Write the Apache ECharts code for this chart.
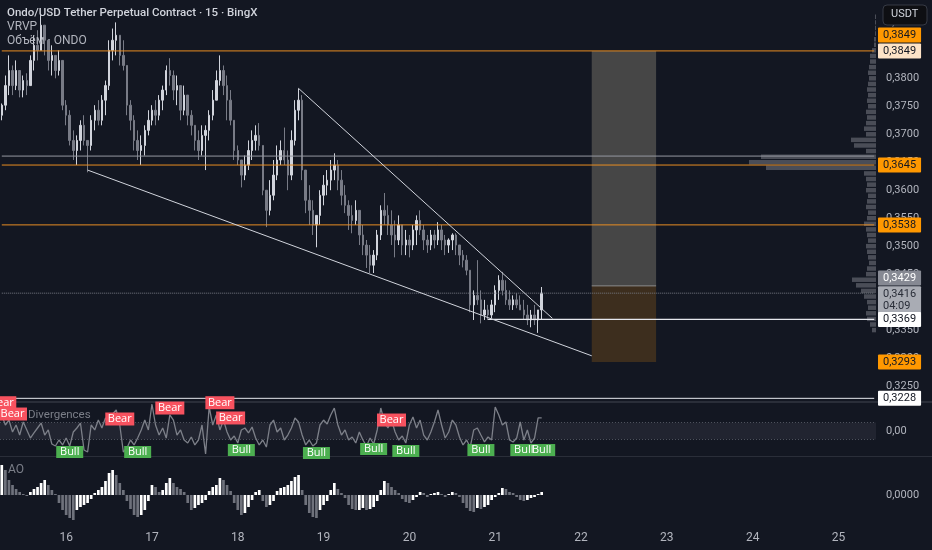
<!DOCTYPE html>
<html><head><meta charset="utf-8">
<script src="https://cdn.jsdelivr.net/npm/echarts@6/dist/echarts.min.js"></script>
<style>html,body{margin:0;padding:0;background:#131722;}#c{width:932px;height:550px;}</style>
</head><body><div id="c"></div>
<script>
// ---------- DATA ----------
const startDay = 15, startHour = 6, slotCount = 245;   // hourly slots, 15th 06:00 .. 25th
const dayTicks = ['16','17','18','19','20','21','22','23','24','25'];

// hourly candles [open, close, low, high]
const candles = [
[0.3734,0.3752,0.3725,0.3755],[0.3752,0.3787,0.3743,0.3805],[0.3787,0.3814,0.3770,0.3841],[0.3814,0.3787,0.3770,0.3823],
[0.3787,0.3814,0.3779,0.3832],[0.3814,0.3779,0.3766,0.3814],[0.3779,0.3796,0.3766,0.3805],[0.3796,0.3787,0.3770,0.3809],
[0.3787,0.3832,0.3787,0.3841],[0.3832,0.3859,0.3814,0.3877],[0.3859,0.3850,0.3832,0.3886],[0.3850,0.3895,0.3850,0.3913],
[0.3895,0.3868,0.3841,0.3895],[0.3868,0.3832,0.3814,0.3868],[0.3832,0.3841,0.3805,0.3859],[0.3841,0.3814,0.3800,0.3841],
[0.3814,0.3832,0.3805,0.3850],[0.3832,0.3752,0.3743,0.3832],[0.3752,0.3734,0.3716,0.3761],[0.3734,0.3689,0.3680,0.3743],
[0.3689,0.3671,0.3654,0.3707],[0.3671,0.3689,0.3645,0.3698],[0.3689,0.3716,0.3671,0.3725],[0.3716,0.3689,0.3680,0.3734],
[0.3689,0.3680,0.3632,0.3689],[0.3680,0.3725,0.3671,0.3734],[0.3725,0.3743,0.3707,0.3752],[0.3743,0.3725,0.3716,0.3761],
[0.3725,0.3761,0.3716,0.3770],[0.3761,0.3787,0.3734,0.3796],[0.3787,0.3850,0.3779,0.3868],[0.3850,0.3868,0.3832,0.3889],
[0.3868,0.3877,0.3841,0.3900],[0.3877,0.3841,0.3823,0.3877],[0.3841,0.3823,0.3814,0.3868],[0.3823,0.3752,0.3734,0.3823],
[0.3752,0.3725,0.3707,0.3761],[0.3725,0.3689,0.3671,0.3734],[0.3689,0.3671,0.3654,0.3707],[0.3671,0.3680,0.3645,0.3698],
[0.3680,0.3707,0.3662,0.3716],[0.3707,0.3725,0.3698,0.3743],[0.3725,0.3743,0.3716,0.3752],[0.3743,0.3734,0.3716,0.3761],
[0.3734,0.3761,0.3725,0.3770],[0.3761,0.3779,0.3743,0.3787],[0.3779,0.3814,0.3770,0.3823],[0.3814,0.3805,0.3787,0.3836],
[0.3805,0.3779,0.3761,0.3814],[0.3779,0.3787,0.3752,0.3805],[0.3787,0.3743,0.3725,0.3787],[0.3743,0.3770,0.3734,0.3787],
[0.3770,0.3734,0.3716,0.3770],[0.3734,0.3716,0.3698,0.3743],[0.3716,0.3689,0.3671,0.3716],[0.3689,0.3671,0.3654,0.3707],
[0.3671,0.3698,0.3662,0.3716],[0.3698,0.3707,0.3636,0.3716],[0.3707,0.3734,0.3689,0.3743],[0.3734,0.3761,0.3725,0.3779],
[0.3761,0.3796,0.3761,0.3814],[0.3796,0.3814,0.3787,0.3841],[0.3814,0.3787,0.3770,0.3823],[0.3787,0.3761,0.3725,0.3805],
[0.3761,0.3725,0.3716,0.3779],[0.3725,0.3671,0.3654,0.3725],[0.3671,0.3654,0.3645,0.3680],[0.3654,0.3627,0.3605,0.3654],
[0.3627,0.3645,0.3618,0.3662],[0.3645,0.3671,0.3636,0.3689],[0.3671,0.3689,0.3654,0.3707],[0.3689,0.3698,0.3671,0.3716],
[0.3698,0.3680,0.3671,0.3720],[0.3680,0.3600,0.3591,0.3680],[0.3600,0.3564,0.3534,0.3600],[0.3564,0.3591,0.3555,0.3618],
[0.3591,0.3627,0.3582,0.3654],[0.3627,0.3654,0.3618,0.3680],[0.3654,0.3671,0.3645,0.3689],[0.3671,0.3654,0.3645,0.3712],
[0.3654,0.3627,0.3600,0.3671],[0.3627,0.3689,0.3618,0.3707],[0.3689,0.3743,0.3680,0.3761],[0.3743,0.3761,0.3725,0.3782],
[0.3761,0.3636,0.3618,0.3770],[0.3636,0.3582,0.3559,0.3636],[0.3582,0.3564,0.3538,0.3609],[0.3564,0.3538,0.3520,0.3582],
[0.3538,0.3555,0.3498,0.3555],[0.3555,0.3591,0.3538,0.3600],[0.3591,0.3609,0.3573,0.3627],[0.3609,0.3618,0.3591,0.3636],
[0.3618,0.3636,0.3600,0.3654],[0.3636,0.3645,0.3618,0.3666],[0.3645,0.3618,0.3600,0.3654],[0.3618,0.3591,0.3573,0.3636],
[0.3591,0.3573,0.3559,0.3609],[0.3573,0.3555,0.3529,0.3582],[0.3555,0.3546,0.3523,0.3573],[0.3546,0.3564,0.3538,0.3582],
[0.3564,0.3520,0.3502,0.3564],[0.3520,0.3502,0.3484,0.3538],[0.3502,0.3484,0.3461,0.3511],[0.3484,0.3466,0.3452,0.3502],
[0.3466,0.3484,0.3452,0.3493],[0.3484,0.3520,0.3475,0.3529],[0.3520,0.3564,0.3511,0.3573],[0.3564,0.3555,0.3538,0.3595],
[0.3555,0.3538,0.3520,0.3573],[0.3538,0.3520,0.3502,0.3564],[0.3520,0.3511,0.3480,0.3546],[0.3511,0.3538,0.3502,0.3555],
[0.3538,0.3502,0.3484,0.3538],[0.3502,0.3511,0.3484,0.3529],[0.3511,0.3502,0.3480,0.3520],[0.3502,0.3529,0.3493,0.3538],
[0.3529,0.3546,0.3502,0.3555],[0.3546,0.3529,0.3520,0.3564],[0.3529,0.3511,0.3493,0.3538],[0.3511,0.3502,0.3488,0.3520],
[0.3502,0.3520,0.3493,0.3529],[0.3520,0.3511,0.3496,0.3529],[0.3511,0.3529,0.3502,0.3543],[0.3529,0.3511,0.3493,0.3538],
[0.3511,0.3502,0.3484,0.3520],[0.3502,0.3511,0.3488,0.3514],[0.3511,0.3520,0.3493,0.3523],[0.3520,0.3502,0.3484,0.3523],
[0.3502,0.3484,0.3466,0.3502],[0.3484,0.3475,0.3462,0.3493],[0.3475,0.3457,0.3448,0.3484],[0.3457,0.3395,0.3382,0.3457],
[0.3395,0.3412,0.3368,0.3421],[0.3412,0.3404,0.3395,0.3475],[0.3404,0.3377,0.3362,0.3421],[0.3377,0.3386,0.3368,0.3404],
[0.3386,0.3377,0.3368,0.3395],[0.3377,0.3395,0.3371,0.3404],[0.3395,0.3421,0.3382,0.3430],[0.3421,0.3439,0.3404,0.3448],
[0.3439,0.3421,0.3412,0.3454],[0.3421,0.3404,0.3395,0.3439],[0.3404,0.3395,0.3386,0.3421],[0.3395,0.3404,0.3386,0.3412],
[0.3404,0.3395,0.3389,0.3416],[0.3395,0.3386,0.3386,0.3412],[0.3386,0.3377,0.3368,0.3404],[0.3377,0.3368,0.3359,0.3395],
[0.3368,0.3377,0.3355,0.3386],[0.3377,0.3368,0.3359,0.3395],[0.3368,0.3386,0.3345,0.3386],[0.3386,0.3416,0.3368,0.3427]
];

// CCI values per hourly candle
const cci = [187,70,128,-12,70,-47,105,12,-82,-23,35,93,-47,12,-152,-175,-105,-163,-82,-175,
-12,35,93,-222,-245,70,12,128,35,152,105,198,245,70,-245,-198,-105,-163,-82,12,
128,12,315,70,-47,35,-82,187,128,-47,12,-105,-140,-70,-163,-105,70,-268,280,70,
187,12,128,-12,-105,-58,-140,12,35,-23,47,-82,-163,-105,-187,70,128,-12,35,-105,
-47,35,152,105,-47,-163,-105,-175,-140,70,128,82,187,268,70,-47,12,-105,-70,-140,
-12,-105,-175,-82,-152,12,268,105,35,128,-12,-105,-58,-140,70,163,35,128,-47,-105,
-12,105,245,70,-82,-12,128,70,-70,-163,-105,-187,12,35,-47,-128,-70,-105,280,187,
70,105,-105,-128,-82,105,-105,12,-140,-82,152,152];

// Awesome Oscillator per hourly candle
const ao = [0.0030,0.0025,0.0015,0.0010,0.0006,0.0003,0.0001,-0.0001,0.0003,0.0006,
0.0008,0.0012,0.0015,0.0010,0.0005,0.0001,-0.0008,-0.0015,-0.0020,-0.0023,
-0.0025,-0.0015,-0.0012,-0.0010,-0.0008,-0.0004,0.0002,0.0005,0.0008,0.0014,
0.0022,0.0025,0.0020,0.0012,0.0005,-0.0006,-0.0014,-0.0020,-0.0022,-0.0020,
-0.0015,-0.0006,0.0010,0.0008,0.0003,0.0005,0.0012,0.0017,0.0012,0.0008,
0.0006,0.0003,-0.0008,-0.0015,-0.0013,-0.0010,-0.0008,-0.0005,0.0004,0.0008,
0.0010,0.0017,0.0015,0.0010,0.0004,-0.0008,-0.0015,-0.0020,-0.0018,-0.0012,
-0.0005,0.0003,0.0005,-0.0006,-0.0012,-0.0010,-0.0006,0.0004,0.0007,0.0008,
0.0010,0.0014,0.0018,0.0020,0.0005,-0.0010,-0.0018,-0.0022,-0.0023,-0.0015,
-0.0010,-0.0006,0.0005,0.0012,0.0006,0.0002,-0.0003,-0.0010,-0.0014,-0.0015,
-0.0015,-0.0013,-0.0015,-0.0014,-0.0012,-0.0006,0.0005,0.0014,0.0012,0.0008,
0.0005,0.0002,-0.0004,-0.0007,-0.0008,-0.0005,-0.0002,0.0003,0.0002,-0.0002,
0.0001,0.0002,0.0003,0.0001,-0.0002,0.0001,0.0003,0.0002,-0.0002,-0.0008,
-0.0013,-0.0016,-0.0017,-0.0013,-0.0014,-0.0012,-0.0010,-0.0005,-0.0002,0.0002,
0.0007,0.0006,0.0003,0.0002,-0.0002,-0.0005,-0.0006,-0.0005,-0.0003,-0.0002,
0.0001,0.0003];

// divergence labels [slot index, CCI value]
const bearMarks = [[0,330],[3,198],[33,140],[47,268],[61,330],[64,152],[109,128]];
const bullMarks = [[19,-245],[38,-245],[67,-222],[88,-257],[104,-210],[113,-233],[134,-222],[146,-222],[151,-222]];

// visible range volume profile: price level, volume
const vrvpPrice = [0.3910,0.3900,0.3890,0.3880,0.3870,0.3860,0.3850,0.3840,0.3830,0.3820,0.3810,0.3800,0.3790,0.3780,0.3770,0.3760,0.3750,0.3740,0.3730,0.3720,0.3710,0.3700,0.3690,0.3680,0.3670,0.3660,0.3650,0.3640,0.3630,0.3620,0.3610,0.3600,0.3590,0.3580,0.3570,0.3560,0.3550,0.3540,0.3530,0.3520,0.3510,0.3500,0.3490,0.3480,0.3470,0.3460,0.3450,0.3440,0.3430,0.3420,0.3410,0.3400,0.3390,0.3380,0.3370,0.3360,0.3350];
const vrvpVol   = [1,1,1,1,2,2,4,6,6,7,8,7,8,9,8,9,8,10,9,10,12,10,25,22,10,115,127,110,12,10,9,10,8,9,10,8,9,12,10,9,8,10,9,8,7,9,10,24,20,15,12,9,8,10,9,6,4];

// drawn levels
const orangeLevels = [0.3849, 0.3645, 0.3538];
const levelTop = 0.3849, levelGray = 0.3661;
const levelLast = 0.3416, levelPosEntry = 0.3429, levelSupport = 0.3369, levelStop = 0.3293, levelLow = 0.3228;
const countdown = '04:09';
// trendlines [slot, price]
const upperLine = [[83,0.3782],[154,0.3371]];
const lowerLine = [[24,0.3636],[165,0.3304]];
const posBox = {from:165, to:183};
const supportFrom = 136;
const priceMin = 0.32, priceMax = 0.394, priceStep = 0.005;

// ---------- BUILD ----------
const categories = [];
for (let k = 0; k < slotCount; k++) {
  const t = startHour + k;
  const d = startDay + Math.floor(t / 24), h = t % 24;
  categories.push(d + ' ' + String(h).padStart(2,'0') + ':00');
}
const lastSlot = slotCount - 1;
const fmt = v => Number(v).toFixed(4).replace('.', ',');
const FONT = 'Roboto';
const ORANGE_LINE = '#e88d22';
const NONE = 'rgba(0,0,0,0)';
function tag(bg, fg, extra) {
  return Object.assign({show:true, position:'end', distance:2, backgroundColor:bg, color:fg,
    padding:[2,5,2,5], fontSize:11, fontFamily:FONT, borderRadius:1, formatter: p => fmt(p.value)}, extra||{});
}
// price tags on the scale (invisible marker lines carrying the labels)
function tagSeries(name, values, label) {
  return {type:'line', name:name, xAxisIndex:0, yAxisIndex:0, data:[], z:6, silent:true,
    markLine:{silent:true, precision:4, symbol:['none','none'], animation:false,
      lineStyle:{color:NONE, width:1}, label:label, data:values.map(v => ({yAxis:v}))}};
}
// visible drawn lines as plain line series through the axes
function segSeries(name, pts, style, z) {
  return {type:'line', name:name, xAxisIndex:0, yAxisIndex:0, data:pts, symbol:'none', silent:true,
    z:z||3, lineStyle:Object.assign({width:1, type:'solid'}, style), itemStyle:{color:style.color}};
}
const full = v => [[0, v], [lastSlot, v]];

const xBase = (gi, showLabels) => ({
  type:'category', gridIndex:gi, data:categories, boundaryGap:true,
  axisLine:{show:false}, axisTick:{show:false}, splitLine:{show:false},
  axisLabel: showLabels ? {
    show:true, interval:(i, v) => v.endsWith(' 00:00') && dayTicks.includes(v.split(' ')[0]),
    formatter: v => v.split(' ')[0], color:'#b2b5be', fontSize:12, fontFamily:FONT, margin:7
  } : {show:false}
});

const series = [
  {
    type:'custom', name:'VRVP', xAxisIndex:3, yAxisIndex:3, z:1, silent:true,
    data: vrvpPrice.map((p, i) => [vrvpVol[i], p]),
    renderItem:(params, api) => {
      const v = api.value(0), p = api.value(1);
      const a = api.coord([v, p + 0.0004]);
      const b = api.coord([0, p - 0.0004]);
      return {type:'rect', shape:{x:Math.min(a[0], b[0]), y:a[1], width:Math.abs(b[0]-a[0]), height:b[1]-a[1]},
              style:{fill:'rgba(149,152,161,0.42)'}};
    }
  },
  {
    type:'candlestick', name:'ONDO', xAxisIndex:0, yAxisIndex:0, data:candles, barWidth:'55%', z:2,
    itemStyle:{color:'#d1d4dc', color0:'#787b86', borderColor:'#d1d4dc', borderColor0:'#787b86', borderWidth:1},
    markArea:{silent:true, data:[
      [{xAxis:posBox.from, yAxis:levelTop, itemStyle:{color:'#464646'}}, {xAxis:posBox.to, yAxis:levelPosEntry}],
      [{xAxis:posBox.from, yAxis:levelPosEntry, itemStyle:{color:'#3d2e1e'}}, {xAxis:posBox.to, yAxis:levelStop}]
    ]}
  },
  segSeries('gray', full(levelGray), {color:'#9598a1'}),
  segSeries('posDivider', [[posBox.from, levelPosEntry],[posBox.to, levelPosEntry]], {color:'#8a8a8a'}),
  ...orangeLevels.map((v, i) => segSeries('orange' + i, full(v), {color:ORANGE_LINE})),
  segSeries('last', full(levelLast), {color:'#787b86', type:'dotted'}),
  segSeries('support', [[supportFrom, levelSupport],[lastSlot, levelSupport]], {color:'#e6e8ee', width:1.2}),
  segSeries('low', full(levelLow), {color:'#e6e8ee'}),
  segSeries('upperTrend', upperLine, {color:'#d1d4dc'}),
  segSeries('lowerTrend', lowerLine, {color:'#d1d4dc'}),
  tagSeries('tagOrange', [0.3645, 0.3538, levelStop], tag('#ff9800','#131722')),
  tagSeries('tagTop', [levelTop], tag('#fde3c7','#131722')),
  tagSeries('tagTopUp', [levelTop], tag('#ff9800','#131722',{offset:[0,-16]})),
  tagSeries('tagLast', [levelLast], tag('#a9acb4','#2a2e39',{formatter: p => fmt(p.value)+'\n'+countdown, lineHeight:12, offset:[0,7]})),
  tagSeries('tagEntry', [levelPosEntry], tag('#868993','#ffffff',{offset:[0,-8]})),
  tagSeries('tagWhite', [levelSupport, levelLow], tag('#ffffff','#131722')),
  {
    type:'line', name:'CCI', xAxisIndex:1, yAxisIndex:1, data:cci, symbol:'none',
    lineStyle:{color:'#7d8089', width:1.3},
    markArea:{silent:true, itemStyle:{color:'rgba(120,123,134,0.14)'}, data:[[{yAxis:100},{yAxis:-100}]]},
    markLine:{silent:true, symbol:['none','none'], label:{show:false},
      lineStyle:{color:'rgba(120,123,134,0.55)', type:[1,2], width:1}, data:[{yAxis:100},{yAxis:-100}]},
    markPoint:{silent:true, symbol:'rect',
      label:{show:true, position:'inside', color:'#ffffff', fontSize:11, fontFamily:'Open Sans'},
      data:[
        ...bearMarks.map(m => ({coord:m, symbolSize:[29,13], itemStyle:{color:'#f7525f'}, label:{formatter:'Bear'}})),
        ...bullMarks.map(m => ({coord:m, symbolSize:[27,12], itemStyle:{color:'#4caf50'}, label:{formatter:'Bull'}}))
      ]}
  },
  {
    type:'bar', name:'AO', xAxisIndex:2, yAxisIndex:2, data:ao, barWidth:'75%',
    itemStyle:{color: p => (p.dataIndex > 0 && ao[p.dataIndex] < ao[p.dataIndex-1]) ? '#6f727c' : '#ffffff'}
  }
];

const chart = echarts.init(document.getElementById('c'), null, {renderer:'canvas'});
chart.setOption({
  backgroundColor:'#131722',
  animation:false,
  grid:[
    {left:0, width:876, top:0, height:414},
    {left:0, width:876, top:401, height:60},
    {left:0, width:876, top:455, height:70},
    {left:0, width:876, top:0, height:414}
  ],
  xAxis:[ xBase(0,false), xBase(1,false), xBase(2,true),
    {type:'value', gridIndex:3, inverse:true, min:0, max:876, show:false} ],
  yAxis:[
    {type:'value', gridIndex:0, position:'right', min:priceMin, max:priceMax, interval:priceStep,
     axisLine:{show:false}, axisTick:{show:false}, splitLine:{show:false},
     axisLabel:{color:'#b2b5be', fontSize:11, fontFamily:FONT, margin:10, showMaxLabel:false,
       formatter: v => (v < priceMin + 1e-6 || v > priceMax - 0.001) ? '' : fmt(v)}},
    {type:'value', gridIndex:1, position:'right', min:-350, max:350, interval:350,
     axisLine:{show:false}, axisTick:{show:false}, splitLine:{show:false},
     axisLabel:{color:'#b2b5be', fontSize:11, fontFamily:FONT, margin:10, formatter: v => v === 0 ? '0,00' : ''}},
    {type:'value', gridIndex:2, position:'right', min:-0.003, max:0.004, interval:0.001,
     axisLine:{show:false}, axisTick:{show:false}, splitLine:{show:false},
     axisLabel:{color:'#b2b5be', fontSize:11, fontFamily:FONT, margin:10, formatter: v => Math.abs(v) < 1e-9 ? '0,0000' : ''}},
    {type:'value', gridIndex:3, min:priceMin, max:priceMax, show:false}
  ],
  graphic:[
    {type:'line', shape:{x1:0,y1:402,x2:932,y2:402}, style:{stroke:'#2a2e39', lineWidth:2}, z:1},
    {type:'line', shape:{x1:0,y1:456.5,x2:932,y2:456.5}, style:{stroke:'#2a2e39', lineWidth:1}, z:1},
    {type:'text', left:7, top:7, z:100, style:{text:'Ondo/USD Tether Perpetual Contract · 15 · BingX', fill:'#d1d4dc', font:'500 11.5px Roboto'}},
    {type:'text', left:7, top:21, z:100, style:{text:'VRVP', fill:'#b2b5be', font:'12px Roboto'}},
    {type:'text', left:7, top:35, z:100, style:{text:'Объём · ONDO', fill:'#b2b5be', font:'12px Roboto'}},
    {type:'text', left:7, top:409, z:0, style:{text:'CCI Divergences', fill:'rgba(178,181,190,0.65)', font:'11.5px Roboto'}},
    {type:'text', left:8, top:464, z:0, style:{text:'AO', fill:'rgba(178,181,190,0.65)', font:'12px Roboto'}},
    {type:'rect', shape:{x:883, y:5, width:44, height:20, r:4}, style:{fill:'#0e0f13', stroke:'#363a45', lineWidth:1}, z:100},
    {type:'text', left:891, top:9, z:101, style:{text:'USDT', fill:'#d1d4dc', font:'11px Roboto'}}
  ],
  series: series
});
</script></body></html>
